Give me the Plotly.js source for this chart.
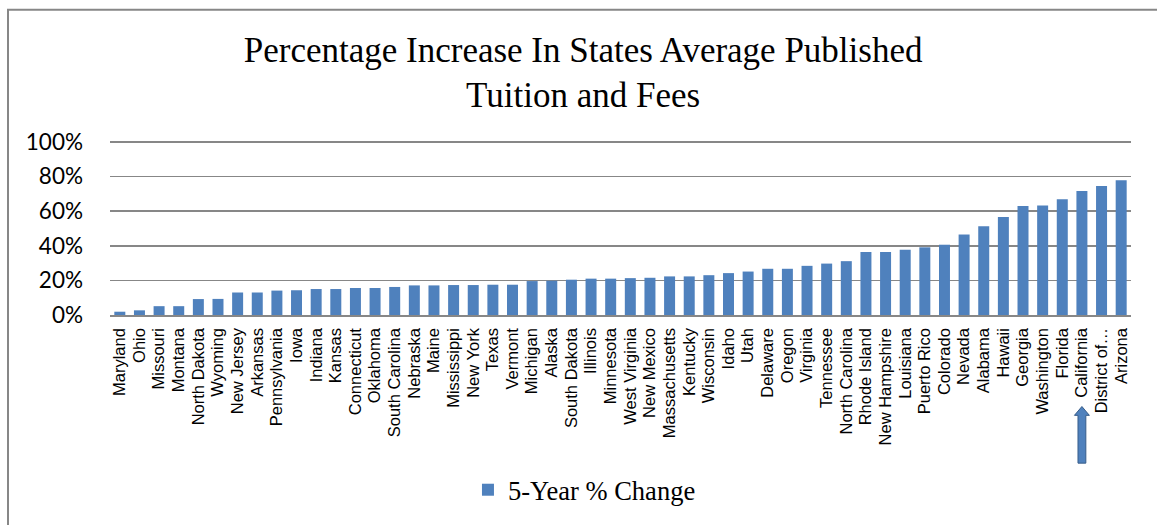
<!DOCTYPE html>
<html>
<head>
<meta charset="utf-8">
<script src="https://cdn.plot.ly/plotly-3.0.1.min.js"></script>
<style>
  html, body { margin: 0; padding: 0; background: #ffffff; }
  #chart { width: 1157px; height: 525px; }
</style>
</head>
<body>
<div id="chart"></div>
<script>
// ---- Data ----
const states = [
  "Maryland", "Ohio", "Missouri", "Montana", "North Dakota", "Wyoming",
  "New Jersey", "Arkansas", "Pennsylvania", "Iowa", "Indiana", "Kansas",
  "Connecticut", "Oklahoma", "South Carolina", "Nebraska", "Maine",
  "Mississippi", "New York", "Texas", "Vermont", "Michigan", "Alaska",
  "South Dakota", "Illinois", "Minnesota", "West Virginia", "New Mexico",
  "Massachusetts", "Kentucky", "Wisconsin", "Idaho", "Utah", "Delaware",
  "Oregon", "Virginia", "Tennessee", "North Carolina", "Rhode Island",
  "New Hampshire", "Louisiana", "Puerto Rico", "Colorado", "Nevada",
  "Alabama", "Hawaii", "Georgia", "Washington", "Florida", "California",
  "District of…", "Arizona"
];
const fiveYearChange = [
  0.019, 0.027, 0.051, 0.051, 0.092, 0.093,
  0.130, 0.130, 0.141, 0.143, 0.150, 0.150,
  0.156, 0.156, 0.162, 0.171, 0.171,
  0.173, 0.173, 0.175, 0.175, 0.196, 0.198,
  0.204, 0.210, 0.210, 0.213, 0.215,
  0.223, 0.223, 0.230, 0.242, 0.251, 0.267,
  0.267, 0.284, 0.297, 0.311, 0.364,
  0.364, 0.377, 0.391, 0.406, 0.465,
  0.513, 0.566, 0.629, 0.632, 0.669, 0.716,
  0.745, 0.779
];
const yTickVals = [0, 0.2, 0.4, 0.6, 0.8, 1.0];
const yTickText = ["0%", "20%", "40%", "60%", "80%", "100%"];
const seriesName = "5-Year % Change";
const chartTitle = "Percentage Increase In States Average Published<br>Tuition and Fees";
const highlighted = "California";

// ---- Arrow pointing at highlighted state ----
const hi = states.indexOf(highlighted);
const sw = 0.2, hw = 0.38;
const arrowPath =
  "M " + (hi - sw) + " -0.837 L " + (hi - sw) + " -0.567 L " + (hi - hw) + " -0.567 L " +
  hi + " -0.517 L " + (hi + hw) + " -0.567 L " + (hi + sw) + " -0.567 L " + (hi + sw) + " -0.837 Z";

const trace = {
  type: "bar",
  x: states,
  y: fiveYearChange,
  name: seriesName,
  showlegend: true,
  marker: { color: "#4F81BD", line: { width: 0 } },
  hoverinfo: "x+y"
};

const layout = {
  width: 1157,
  height: 525,
  margin: { l: 110, r: 26, t: 138, b: 209, pad: 0 },
  paper_bgcolor: "#ffffff",
  plot_bgcolor: "#ffffff",
  bargap: 0.44,
  title: {
    text: chartTitle,
    font: { family: "Liberation Serif, Times New Roman, serif", size: 35, color: "#000000" },
    x: 0.504,
    xanchor: "center",
    xref: "container",
    y: 0.882,
    yanchor: "top",
    yref: "container"
  },
  xaxis: {
    type: "category",
    range: [-0.5, states.length - 0.5],
    tickmode: "linear",
    tick0: 0,
    dtick: 1,
    tickangle: -90,
    tickfont: { family: "Liberation Sans, Arial, sans-serif", size: 16.5, color: "#000000" },
    ticklabelstandoff: 5,
    showgrid: false,
    showline: true,
    linecolor: "#878787",
    linewidth: 1.5,
    ticks: "",
    ticklen: 0,
    fixedrange: true
  },
  yaxis: {
    range: [0, 1.0225],
    tickvals: yTickVals,
    ticktext: yTickText,
    tickfont: { family: "Lato, Carlito, Calibri, sans-serif", size: 22.5, color: "#000000" },
    showgrid: true,
    gridcolor: "#878787",
    gridwidth: 1.5,
    zeroline: false,
    showline: false,
    ticks: "",
    ticklabelstandoff: 26,
    fixedrange: true
  },
  legend: {
    orientation: "h",
    x: 0.3506,
    xanchor: "left",
    y: -0.9775,
    yanchor: "middle",
    font: { family: "Liberation Serif, Times New Roman, serif", size: 26.5, color: "#000000" },
    bgcolor: "rgba(0,0,0,0)"
  },
  shapes: [
    {
      type: "path",
      xref: "x",
      yref: "paper",
      path: arrowPath,
      fillcolor: "#4F81BD",
      line: { color: "#385D8A", width: 1 },
      layer: "above"
    },
    {
      type: "rect",
      xref: "paper",
      yref: "paper",
      x0: (8 - 110) / 1021,
      x1: (1165 - 110) / 1021,
      y0: -1.3,
      y1: (316 - 9) / 178,
      line: { color: "#878787", width: 2 },
      fillcolor: "rgba(0,0,0,0)",
      layer: "below"
    }
  ],
  showlegend: true
};

Plotly.newPlot("chart", [trace], layout, { displayModeBar: false, responsive: false, staticPlot: true });
</script>
</body>
</html>
